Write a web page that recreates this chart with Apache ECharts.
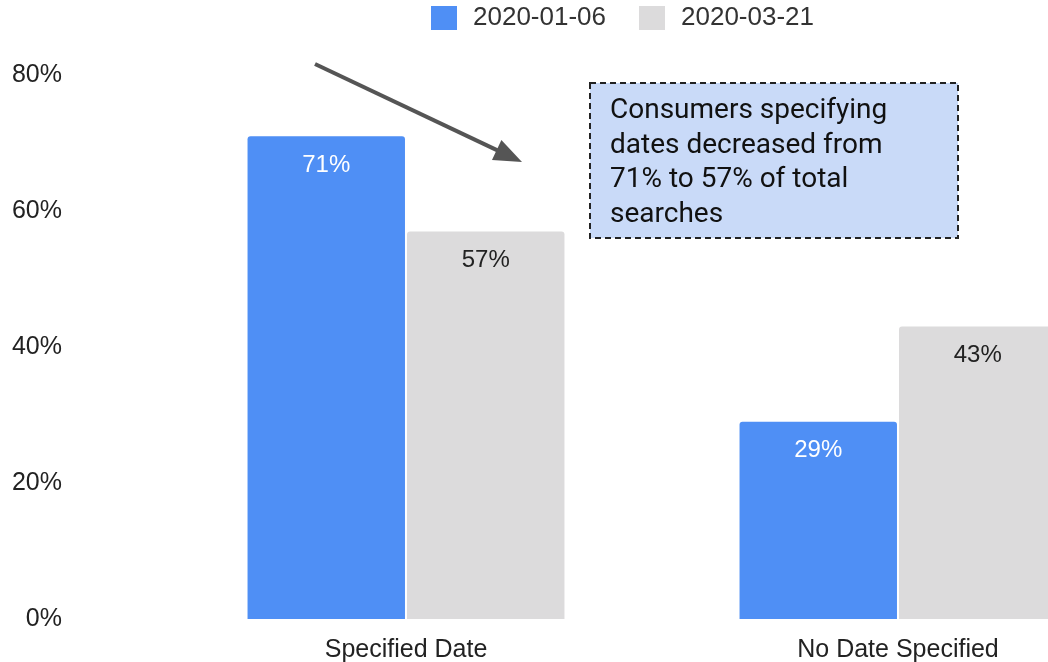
<!DOCTYPE html>
<html>
<head>
<meta charset="utf-8">
<script src="https://cdn.jsdelivr.net/npm/echarts@6/dist/echarts.min.js"></script>
<style>
  html, body { margin: 0; padding: 0; background: #fff; }
  #chart { width: 1048px; height: 662px; }
</style>
</head>
<body>
<div id="chart"></div>
<script>
// Share of searches by whether a travel date was specified
const categories = ['Specified Date', 'No Date Specified'];
const seriesNames = ['2020-01-06', '2020-03-21'];
const janValues = [71, 29];
const marValues = [57, 43];
const yTicks = [0, 20, 40, 60, 80];
const noteText = 'Consumers specifying\ndates decreased from\n71% to 57% of total\nsearches';

const FONT = '"Liberation Sans", Arial, sans-serif';
const NOTE_FONT = 'Roboto, "Noto Sans", sans-serif';
const BLUE = '#4f8ff5';
const GREY = '#dcdbdc';

const chart = echarts.init(document.getElementById('chart'), null, { renderer: 'canvas' });

// arrow pointing from the blue bar toward the note
function arrowGraphic(x1, y1, x2, y2) {
  const dx = x2 - x1, dy = y2 - y1;
  const len = Math.sqrt(dx * dx + dy * dy);
  const ux = dx / len, uy = dy / len;
  const headLen = 28, headHalf = 11;
  const bx = x2 - ux * headLen, by = y2 - uy * headLen;
  const px = -uy * headHalf, py = ux * headHalf;
  return [
    { type: 'line', shape: { x1: x1, y1: y1, x2: bx + ux * 2, y2: by + uy * 2 },
      style: { stroke: '#555', lineWidth: 4 }, z: 10 },
    { type: 'polygon', shape: { points: [[x2, y2], [bx + px, by + py], [bx - px, by - py]] },
      style: { fill: '#555' }, z: 10 }
  ];
}

chart.setOption({
  animation: false,
  backgroundColor: '#ffffff',
  textStyle: { fontFamily: FONT },
  legend: {
    top: 0,
    left: 426,
    itemWidth: 26,
    itemHeight: 24,
    itemGap: 33,
    icon: 'rect',
    textStyle: { fontSize: 26, color: '#333', fontFamily: FONT, padding: [0, 0, 0, 11] },
    data: seriesNames
  },
  grid: {
    left: 160,
    right: -96,
    top: 75,
    bottom: 43,
    outerBoundsMode: 'none'
  },
  xAxis: {
    type: 'category',
    data: categories,
    axisLine: { show: false },
    axisTick: { show: false },
    axisLabel: { fontSize: 25, color: '#222', margin: 19, fontFamily: FONT }
  },
  yAxis: {
    type: 'value',
    min: yTicks[0],
    max: yTicks[yTicks.length - 1],
    interval: 20,
    splitLine: { show: false },
    axisLine: { show: false },
    axisTick: { show: false },
    axisLabel: {
      fontSize: 25, color: '#222', margin: 98, fontFamily: FONT,
      formatter: v => v + '%'
    }
  },
  series: [
    {
      name: seriesNames[0],
      type: 'bar',
      data: janValues,
      barWidth: '32%',
      barGap: '1.3%',
      itemStyle: { color: BLUE, borderRadius: [3, 3, 0, 0] },
      label: {
        show: true, position: 'insideTop', distance: 17,
        fontSize: 24, color: '#ffffff', fontFamily: FONT,
        formatter: p => p.value + '%'
      }
    },
    {
      name: seriesNames[1],
      type: 'bar',
      data: marValues,
      barWidth: '32%',
      itemStyle: { color: GREY, borderRadius: [3, 3, 0, 0] },
      label: {
        show: true, position: 'insideTop', distance: 17,
        fontSize: 24, color: '#222', fontFamily: FONT,
        formatter: p => p.value + '%'
      }
    }
  ],
  graphic: [
    ...arrowGraphic(315, 64, 522, 162),
    {
      type: 'rect',
      shape: { x: 590, y: 83, width: 368, height: 155 },
      style: { fill: '#c9daf8', stroke: '#222', lineWidth: 2, lineDash: [6, 4] },
      z: 10
    },
    {
      type: 'text',
      x: 610, y: 94,
      style: {
        text: noteText,
        font: '28px ' + NOTE_FONT,
        fill: '#111',
        lineHeight: 34.5,
        verticalAlign: 'top'
      },
      z: 11
    }
  ]
});
</script>
</body>
</html>
